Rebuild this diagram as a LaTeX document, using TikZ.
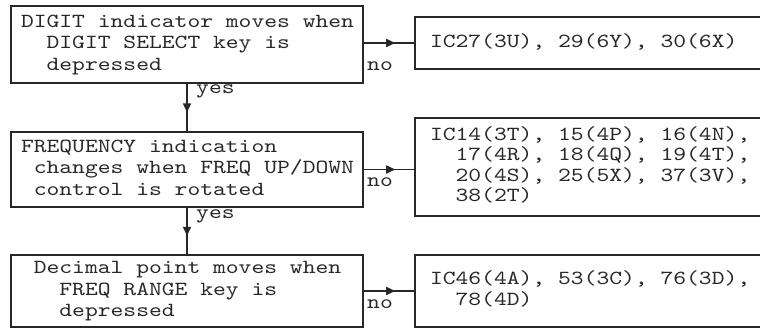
\documentclass[tikz,border=0pt]{standalone}
\usepackage{fontspec}
\newfontfamily\tw{lmmono10-regular}[Extension=.otf,FakeStretch=1.22]
\usetikzlibrary{arrows.meta,decorations.markings}
\definecolor{ink}{RGB}{40,40,40}
\newcommand\twtext[3]{\makebox[#1][l]{\tw\fontsize{20}{#2}\selectfont\begin{tabular}{@{}l@{}}#3\end{tabular}}}
\newcommand\twlbl[1]{{\tw\fontsize{20}{20}\selectfont #1}}
\newcommand\ii{\phantom{0}}
\tikzset{
  lbox/.style={draw=ink, line width=1.5pt, rectangle, anchor=north west, outer sep=0pt,
    minimum width=352pt, inner xsep=10pt, inner ysep=0pt, text=ink},
  rbox/.style={draw=ink, line width=1.5pt, rectangle, anchor=north west, outer sep=0pt,
    minimum width=360pt, inner xsep=15pt, inner ysep=0pt, text=ink},
  flow/.style={draw=ink, line width=1.5pt, postaction={decorate},
    decoration={markings, mark=at position #1 with {\arrow{Triangle[length=9pt,width=8pt]}}}},
  lbl/.style={text=ink, inner sep=0pt, anchor=north west}
}
\begin{document}
\begin{tikzpicture}[x=1pt,y=-1pt]
\useasboundingbox (0,0) rectangle (760,328);
\clip (0,0) rectangle (760,328);
\fill[white] (0,0) rectangle (760,328);

\node[lbox, minimum height=77pt] (b1) at (11,6)
  {\twtext{332pt}{21.5pt}{DIGIT indicator moves when\\\ii\ii DIGIT SELECT key is\\\ii\ii depressed}};
\node[lbox, minimum height=75pt] (b2) at (11,132)
  {\twtext{332pt}{21.5pt}{FREQUENCY indication\\\ii changes when FREQ UP/DOWN\\\ii control is rotated}};
\node[lbox, minimum height=72pt] (b3) at (11,255)
  {\twtext{332pt}{21.5pt}{\ii Decimal point moves when\\\ii\ii\ii FREQ RANGE key is\\\ii\ii\ii depressed}};

\node[rbox, minimum height=52pt] (r1) at (415,17)
  {\twtext{330pt}{20.5pt}{IC27(3U), 29(6Y), 30(6X)}};
\node[rbox, minimum height=98pt] (r2) at (415,118)
  {\twtext{330pt}{20.5pt}{IC14(3T), 15(4P), 16(4N),\\\ii\ii 17(4R), 18(4Q), 19(4T),\\\ii\ii 20(4S), 25(5X), 37(3V),\\\ii\ii 38(2T)}};
\node[rbox, minimum height=72pt] (r3) at (415,255)
  {\twtext{330pt}{20.5pt}{IC46(4A), 53(3C), 76(3D),\\\ii\ii 78(4D)}};

\draw[flow=0.62] (b1.east |- r1.west) -- (r1.west);
\draw[flow=0.62] (b2.east) -- (b2.east -| r2.west);
\draw[flow=0.62] (b3.east) -- (b3.east -| r3.west);

\draw[flow=0.6] (b1.south) -- (b2.north);
\draw[flow=0.6] (b2.south) -- (b3.north);

\node[lbl] (no1) at (367,62) {\twlbl{no}};
\node[lbl] (no2) at (367,178) {\twlbl{no}};
\node[lbl] (no3) at (367,300) {\twlbl{no}};
\node[lbl] (yes1) at (196,85) {\twlbl{yes}};
\node[lbl] (yes2) at (196,210) {\twlbl{yes}};
\end{tikzpicture}
\end{document}
